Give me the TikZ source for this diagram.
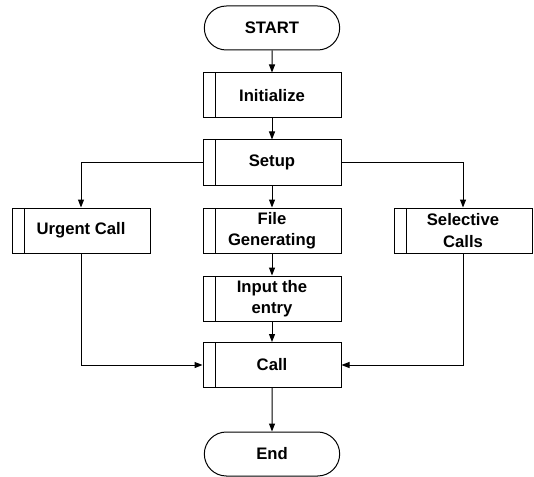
\documentclass[tikz,border=0pt]{standalone}
\usepackage{fontspec}
\setmainfont{Liberation Sans}
\usetikzlibrary{shapes.misc,arrows.meta}

\tikzset{every picture/.style={line width=0.75pt}}
\tikzset{
  termbox/.style={rounded rectangle, draw, minimum width=103.5pt, minimum height=33pt,
    inner sep=1pt, font=\fontsize{12.5}{16}\selectfont\bfseries, align=center},
  procbox/.style={rectangle, draw, minimum width=103.5pt, minimum height=33.75pt,
    inner sep=1pt, font=\fontsize{12.5}{16}\selectfont\bfseries, align=center,
    path picture={\draw ([xshift=9pt]path picture bounding box.north west) -- ([xshift=9pt]path picture bounding box.south west);}},
  flow/.style={-{Triangle[length=6pt,width=4.5pt]}}
}

\begin{document}
\begin{tikzpicture}[x=0.75pt,y=0.75pt,yscale=-1,xscale=1]
\useasboundingbox (0,0) rectangle (534,477);

% main column
\node [termbox] (start) at (272,28) {START};
\node [procbox] (init) at (272,95.5) {Initialize};
\node [procbox] (setup) at (272,162.5) {Setup};
\node [procbox] (filegen) at (272,230.5) {File\\Generating};
\node [procbox] (input) at (272,298.5) {Input the\\entry};
\node [procbox] (call) at (272,365) {Call};
\node [termbox] (stop) at (272,454) {End};

% side branches
\node [procbox] (urgent) at (81,230.5) {Urgent Call};
\node [procbox] (selective) at (463,230.5) {Selective\\Calls};

% connectors
\draw [flow] (start) -- (init);
\draw [flow] (init) -- (setup);
\draw [flow] (setup) -- (filegen);
\draw [flow] (filegen) -- (input);
\draw [flow] (input) -- (call);
\draw [flow] (call) -- (stop);
\draw [flow] (setup.west) -| (urgent.north);
\draw [flow] (setup.east) -| (selective.north);
\draw [flow] (urgent.south) |- (call.west);
\draw [flow] (selective.south) |- (call.east);

\end{tikzpicture}
\end{document}
